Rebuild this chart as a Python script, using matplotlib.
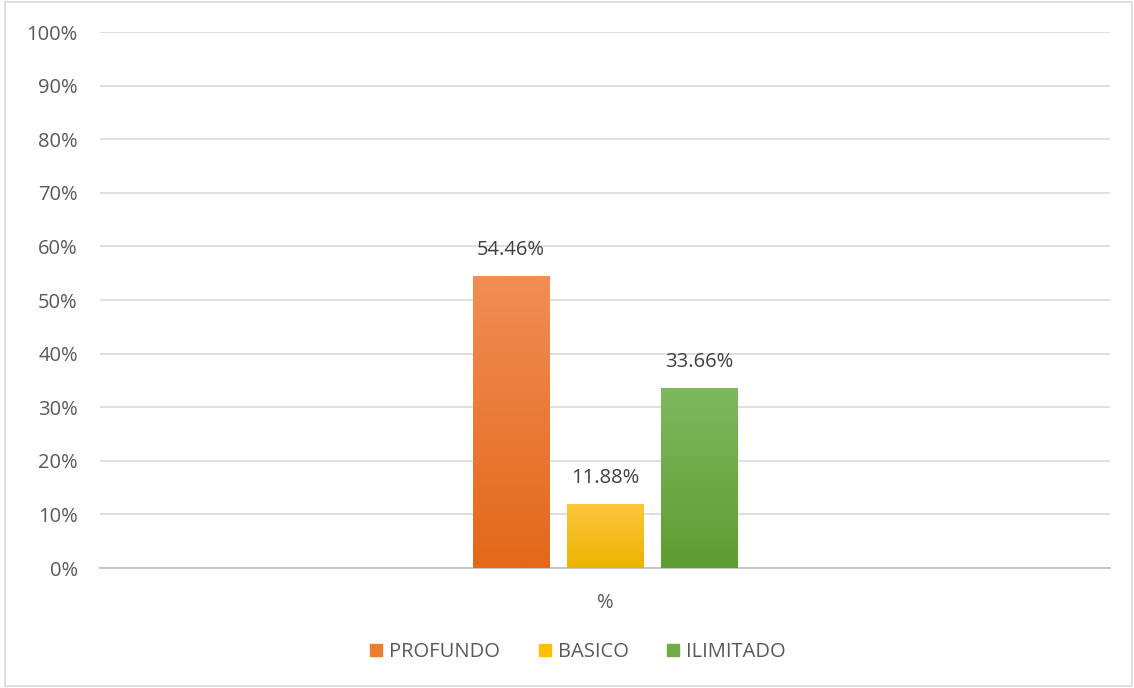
import numpy as np
import matplotlib
matplotlib.use("Agg")
import matplotlib.pyplot as plt
from matplotlib.colors import LinearSegmentedColormap
from matplotlib.patches import Rectangle

# Datos
categorias = ["PROFUNDO", "BASICO", "ILIMITADO"]
valores = [54.46, 11.88, 33.66]
etiqueta_x = "%"
colores_arriba = ["#F18D55", "#FFC53D", "#80B860"]
colores_abajo = ["#E2681A", "#EAB400", "#5E9D32"]
colores_leyenda = ["#ED7D31", "#FFC000", "#70AD47"]

plt.rcParams['font.family'] = ['Open Sans', 'DejaVu Sans']
fs = 14.5

fig = plt.figure(figsize=(11.34, 6.88), dpi=100)
ax = fig.add_axes([100/1134, 120/688, 1010/1134, 536/688])

# borde del grafico
fig.patches.append(Rectangle((5/1134, 2/688), 1127/1134, 684/688, transform=fig.transFigure,
                             fill=False, edgecolor="#D9D9D9", linewidth=1.2))

posiciones = [-1, 0, 1]
ancho = 76 / 94
barras = ax.bar(posiciones, valores, width=ancho, color="none", zorder=3)

for barra, c1, c2, v in zip(barras, colores_arriba, colores_abajo, valores):
    x0 = barra.get_x()
    cmap = LinearSegmentedColormap.from_list("g", [c2, c1])
    grad = np.linspace(0, 1, 256).reshape(-1, 1)
    im = ax.imshow(grad, cmap=cmap, origin="lower", aspect="auto",
                   extent=[x0, x0 + ancho, 0, v], zorder=3)
    im.set_clip_path(barra)
    ax.text(barra.get_x() + ancho / 2, v + 3.0, f"{v:.2f}%", ha="center", va="bottom",
            fontsize=fs, color="#404040")

ax.set_xlim(-5.37, 5.37)
ax.set_ylim(0, 100)
ax.set_yticks(np.arange(0, 101, 10))
ax.set_yticklabels([f"{t}%" for t in range(0, 101, 10)], fontsize=fs, color="#595959")
ax.set_xticks([0])
ax.set_xticklabels([etiqueta_x], fontsize=fs, color="#595959")
ax.tick_params(axis="y", length=0, pad=16)
ax.tick_params(axis="x", length=0, pad=18)
ax.yaxis.grid(True, color="#D9D9D9", linewidth=1.2, zorder=0)
ax.set_axisbelow(True)
for s in ["top", "right", "left"]:
    ax.spines[s].set_visible(False)
ax.spines["bottom"].set_color("#BFBFBF")
ax.spines["bottom"].set_linewidth(1.2)

handles = [Rectangle((0, 0), 1, 1, color=c) for c in colores_leyenda]
fig.legend(handles, categorias, loc="center", bbox_to_anchor=(578/1134, 36/688), ncol=3,
           frameon=False, fontsize=fs, handlelength=0.6, handleheight=0.6,
           handletextpad=0.35, columnspacing=1.9, labelcolor="#595959")

fig.savefig("out.png", dpi=100)
